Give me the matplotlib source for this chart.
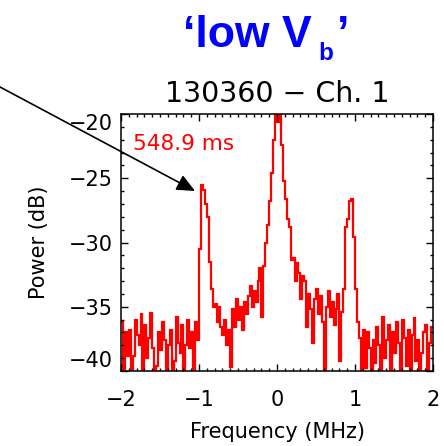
import numpy as np
import matplotlib
matplotlib.use("Agg")
import matplotlib.pyplot as plt
from matplotlib.ticker import MultipleLocator

# spectrum values (dB), one per frequency bin from -2 to 2 MHz
power = [
    # -2.0 .. -1.05 : noise floor
    -36.2, -41.0, -37.0, -38.8, -36.8, -41.0, -38.8, -36.0, -37.2, -38.0,
    -35.6, -41.0, -36.4, -39.0, -37.4, -35.5, -38.2, -41.0, -39.6, -37.0,
    -38.4, -36.2, -37.6, -41.0, -38.0, -36.8, -41.0, -39.2, -35.8, -37.8,
    -38.6, -36.4, -41.0, -38.0, -36.0, -38.2, -37.0, -41.0,
    # line near -1 MHz
    -36.2, -37.6, -30.5, -25.5, -25.9, -27.0, -28.0, -31.5, -33.6, -35.0,
    # -0.8 .. 0
    -34.8, -36.2, -35.0, -36.6, -37.2, -36.0, -38.0, -36.8, -39.7,
    -35.2, -36.6, -34.4, -36.0, -35.0, -36.8, -34.6, -35.6,
    -34.2, -33.4, -35.0, -33.8, -34.6, -33.0, -32.0,
    # central peak
    -35.8, -31.8, -30.0, -28.6, -26.8, -24.6, -22.0, -19.0, -20.6, -19.0,
    -22.4, -25.2, -26.6, -28.2, -28.8, -31.4, -31.2, -33.0, -31.6, -32.4,
    -34.4, -32.6, -33.0,
    # 0.35 .. 1.05, line near +1 MHz
    -36.6, -34.0, -35.2, -37.8, -34.4, -33.6, -35.6, -34.2, -36.2, -41.0,
    -35.0, -33.8, -35.8, -34.6, -36.4, -35.2, -34.0, -39.2, -35.4, -33.6,
    -28.8, -28.2, -26.8, -26.6, -29.6, -33.6, -36.2,
    # 1.05 .. 2.0 : noise floor
    -37.4, -41.0, -36.8, -39.8, -37.0, -38.2, -41.0, -37.6, -39.4, -36.6,
    -38.0, -41.0, -35.8, -39.0, -37.6, -36.4, -41.0, -37.0, -38.6, -36.2,
    -37.8, -41.0, -36.0, -37.4, -39.6, -36.8, -41.0, -37.2, -35.9, -39.2,
    -37.6, -41.0, -38.6, -37.0, -36.4, -41.0, -37.8, -36.6,
]
f_min, f_max = -2.0, 2.0
freq_edges = np.linspace(f_min, f_max, len(power) + 1)

x_ticks = [-2, -1, 0, 1, 2]
y_ticks = [-40, -35, -30, -25, -20]

W, H = 444, 446
fig = plt.figure(figsize=(W / 100, H / 100), dpi=100)
ax = fig.add_axes([121 / W, 1 - 371 / H, 312 / W, 257 / H])

ax.stairs(power, freq_edges, baseline=None, color="#ff0000", lw=1.6)
ax.set_xlim(f_min, f_max)
ax.set_ylim(-40, -20)

ax.set_xticks(x_ticks)
ax.set_yticks(y_ticks)
ax.xaxis.set_minor_locator(MultipleLocator(0.1))
ax.yaxis.set_minor_locator(MultipleLocator(1))
ax.tick_params(which="both", direction="in", top=True, right=True, width=1.0)
ax.tick_params(which="major", length=5)
ax.tick_params(which="minor", length=2.5)
ax.tick_params(axis="x", labelsize=15, pad=14)
ax.tick_params(axis="y", labelsize=15, pad=6)
for s in ax.spines.values():
    s.set_linewidth(1.1)

ylabs = ax.get_yticklabels()
ylabs[0].set_va("bottom")
ylabs[-1].set_va("top")

ax.set_xlabel("Frequency (MHz)", fontsize=15, labelpad=8)
ax.set_ylabel("Power (dB)", fontsize=15, labelpad=14)
ax.set_title("130360 \u2212 Ch. 1", fontsize=20.5, pad=8.6)

ax.text(12 / 312, (371 - 150) / 257, "548.9 ms", transform=ax.transAxes,
        color="#ff0000", fontsize=15.5, va="baseline", ha="left")

# big blue heading
blue = "#0000ff"
fig.text(183 / W, 1 - 47 / H, "\u2018low V", fontsize=32, fontweight="bold",
         family="Liberation Sans", color=blue, va="baseline", ha="left")
fig.text(318 / W, 1 - 60 / H, "b", fontsize=17.5, fontweight="bold",
         family="Liberation Sans", color=blue, va="baseline", ha="left")
fig.text(337 / W, 1 - 47 / H, "\u2019", fontsize=32, fontweight="bold",
         family="Liberation Sans", color=blue, va="baseline", ha="left")

# pointer arrow onto the -1 MHz line
ax.annotate("", xy=(195 / W, 1 - 191 / H), xytext=(0, 1 - 87 / H),
            xycoords="figure fraction", textcoords="figure fraction",
            arrowprops=dict(arrowstyle="-|>,head_length=0.55,head_width=0.25",
                            mutation_scale=20, color="black", lw=1.2,
                            shrinkA=0, shrinkB=0),
            annotation_clip=False)

fig.savefig("out.png", dpi=100)
